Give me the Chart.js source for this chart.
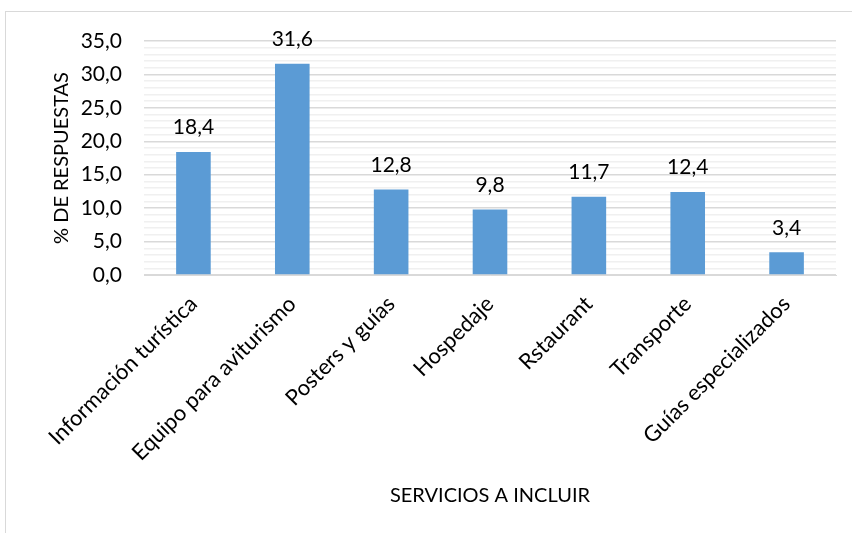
<!DOCTYPE html>
<html>
<head>
<meta charset="utf-8">
<script src="https://cdn.jsdelivr.net/npm/chart.js@4"></script>
<style>
  html, body { margin: 0; padding: 0; background: #fff; }
  #wrap { width: 852px; height: 533px; }
</style>
</head>
<body>
<div id="wrap"><canvas id="barChart"></canvas></div>
<script>
const categories = ['Información turística', 'Equipo para aviturismo', 'Posters y guías', 'Hospedaje', 'Rstaurant', 'Transporte', 'Guías especializados'];
const values = [18.4, 31.6, 12.8, 9.8, 11.7, 12.4, 3.4];
const yMin = 0;
const yMax = 35;

const fmt = v => v.toFixed(1).replace('.', ',');
const FONT = 'Lato, "Open Sans", sans-serif';

// chart frame + value labels
const extras = {
    id: 'extras',
    beforeDraw(chart) {
        const c = chart.ctx;
        c.save();
        c.strokeStyle = '#d9d9d9';
        c.lineWidth = 1;
        c.strokeRect(5.5, 11.5, 900, 600);
        c.restore();
    },
    afterDatasetsDraw(chart) {
        const c = chart.ctx;
        const meta = chart.getDatasetMeta(0);
        c.save();
        c.font = '21px ' + FONT;
        c.fillStyle = '#000';
        c.textAlign = 'center';
        c.textBaseline = 'bottom';
        meta.data.forEach((bar, i) => {
            c.fillText(fmt(values[i]), bar.x, bar.y - 14);
        });
        c.restore();
    }
};

const ctxBar = document.getElementById('barChart').getContext('2d');
new Chart(ctxBar, {
    type: 'bar',
    data: {
        labels: categories,
        datasets: [{
            data: values,
            backgroundColor: '#5b9bd5',
            barPercentage: 0.35,
            categoryPercentage: 1.0
        }]
    },
    options: {
        responsive: true,
        maintainAspectRatio: false,
        animation: false,
        layout: { padding: { top: 41, right: 16, left: 46, bottom: 25 } },
        plugins: {
            legend: { display: false },
            tooltip: { enabled: false }
        },
        scales: {
            x: {
                afterFit: s => { s.height = 233; },
                grid: { display: false, drawTicks: false },
                border: { color: '#d9d9d9' },
                ticks: {
                    color: '#000',
                    font: { family: FONT, size: 22 },
                    minRotation: 45,
                    maxRotation: 45,
                    padding: 16
                },
                title: {
                    display: true,
                    text: 'SERVICIOS A INCLUIR',
                    color: '#000',
                    font: { family: FONT, size: 20 },
                    padding: { top: 4, bottom: 0 }
                }
            },
            y: {
                min: yMin,
                max: yMax,
                afterFit: s => { s.width = 98; },
                border: { display: false },
                grid: {
                    drawTicks: false,
                    color: ctx => (ctx.tick.value % 5 === 0 ? '#d9d9d9' : '#f0f0f0'),
                    lineWidth: 1.5
                },
                ticks: {
                    stepSize: 1,
                    autoSkip: false,
                    color: '#000',
                    padding: 22,
                    font: { family: FONT, size: 21 },
                    callback: v => (v % 5 === 0 ? fmt(v) : '')
                },
                title: {
                    display: true,
                    text: '% DE RESPUESTAS',
                    color: '#000',
                    font: { family: FONT, size: 20 },
                    padding: { top: 4, bottom: 0 }
                }
            }
        }
    },
    plugins: [extras]
});
</script>
</body>
</html>
